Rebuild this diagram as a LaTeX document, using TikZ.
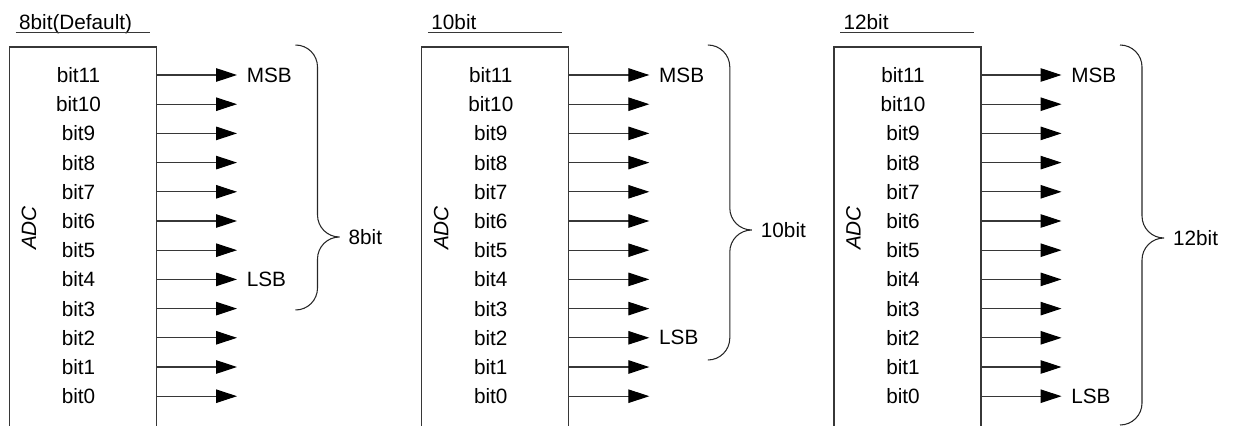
\documentclass[tikz,border=0pt]{standalone}
\usepackage{fontspec}
\setmainfont{Liberation Sans}
\usetikzlibrary{arrows.meta}
\definecolor{lnG}{RGB}{55,55,55}
\newcommand{\DY}{0.584}
\newcommand{\YA}{-1.50}
\newcommand{\BXW}{2.94}
\newcommand{\AX}{4.55}

\begin{document}
\begin{tikzpicture}[
    frame/.style={draw=lnG, line width=0.6pt},
    sig/.style={draw=lnG, line width=0.6pt, -{Triangle[length=4.2mm, width=2.7mm, color=black]}},
    brc/.style={draw=black!85, line width=0.6pt},
    tag/.style={font=\fontsize{11.8}{14}\selectfont, inner sep=1pt},
    adc/.style={font=\fontsize{11.8}{14}\selectfont\itshape, inner sep=1pt, rotate=90},
  ]
  \useasboundingbox (0,0) rectangle (24.72,-8.52);

  \newcommand{\panel}[7]{% #1 xshift, #2 name, #3 title, #4 LSB bit, #5 brace tip y, #6 brace end y, #7 brace label
    \begin{scope}[xshift=#1]
      \node[tag, anchor=base west] (#2-ttl) at (0.15,-0.59) {#3};
      \coordinate (#2-u0) at (0.12,-0.645);
      \coordinate (#2-u1) at (2.80,-0.645);
      \draw[frame] (#2-u0) -- (#2-u1);
      % the box runs off the bottom edge
      \coordinate (#2-bl) at (0,-8.52);
      \coordinate (#2-tl) at (0,-0.94);
      \coordinate (#2-tr) at (\BXW,-0.94);
      \coordinate (#2-br) at (\BXW,-8.52);
      \draw[frame] (#2-bl) -- (#2-tl) -- (#2-tr) -- (#2-br);
      \node[adc] (#2-adc) at (0.39,-4.56) {ADC};
      \foreach \i in {0,...,11} {
        \node[tag] (#2-b\i) at (1.38,{\YA-(11-\i)*\DY}) {bit\i};
        \coordinate (#2-s\i) at (\BXW,{\YA-(11-\i)*\DY});
        \coordinate (#2-e\i) at (\AX,{\YA-(11-\i)*\DY});
        \draw[sig] (#2-s\i) -- (#2-e\i);
      }
      \node[tag, anchor=west] (#2-msb) at ([xshift=0.155cm]#2-e11) {MSB};
      \node[tag, anchor=west] (#2-lsb) at ([xshift=0.155cm]#2-e#4) {LSB};
      % brace over the bits that are kept
      \coordinate (#2-k0) at (5.72,-0.90);
      \coordinate (#2-k1) at (6.60,#5);
      \coordinate (#2-k2) at (5.72,#6);
      \draw[brc] (#2-k0) to[out=0,in=90] ++(0.44,-0.44)
        -- ([xshift=-0.44cm,yshift=0.44cm]#2-k1) to[out=-90,in=180] (#2-k1)
        to[out=180,in=90] ++(-0.44,-0.44)
        -- ([xshift=0.44cm,yshift=0.44cm]#2-k2) to[out=-90,in=0] (#2-k2);
      \node[tag, anchor=west] (#2-nb) at ([xshift=0.14cm]#2-k1) {#7};
    \end{scope}}

  \panel{0.19cm}{pa}{8bit(Default)}{4}{-4.74}{-6.20}{8bit}
  \panel{8.436cm}{pb}{10bit}{2}{-4.60}{-7.20}{10bit}
  \panel{16.68cm}{pc}{12bit}{0}{-4.76}{-8.50}{12bit}

\end{tikzpicture}
\end{document}
